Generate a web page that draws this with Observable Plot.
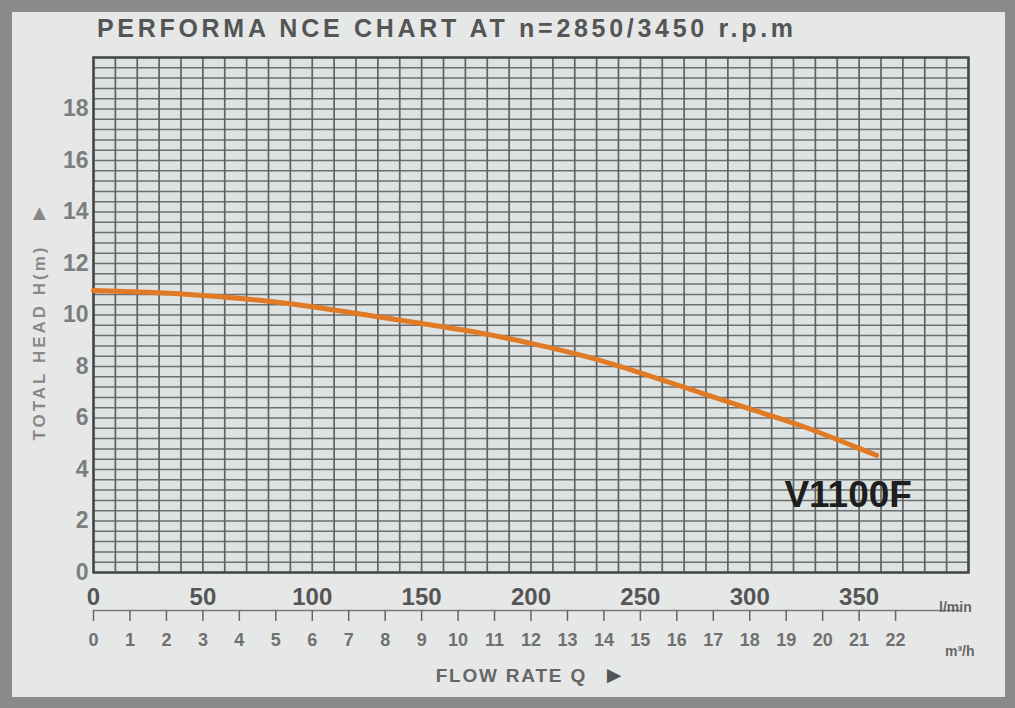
<!DOCTYPE html>
<html><head><meta charset="utf-8">
<script src="https://cdn.jsdelivr.net/npm/d3@7"></script>
<script src="https://cdn.jsdelivr.net/npm/@observablehq/plot@0.6"></script>
<style>
html,body{margin:0;padding:0;background:#8a8a8a;width:1015px;height:708px;overflow:hidden}
#panel{position:absolute;left:12px;top:12px;width:993px;height:685px;background:#e6e8e8;}
#title{position:absolute;left:85px;top:4px;font:bold 25px "Liberation Sans",Arial,sans-serif;line-height:25px;letter-spacing:3.7px;color:#555;white-space:nowrap;}
#chart{position:absolute;left:0;top:38px;}
</style></head>
<body>
<div id="panel">
  <div id="title">PERFORMA NCE CHART AT n=2850/3450 r.p.m</div>
  <div id="chart"></div>
</div>
<script>
// ---- data ----
const flowLmin = [0, 25, 50, 75, 100, 125, 150, 175, 200, 225, 250, 275, 300, 325, 350, 358];
const headM    = [10.95, 10.88, 10.76, 10.58, 10.32, 10.0, 9.67, 9.33, 8.9, 8.39, 7.75, 7.05, 6.35, 5.65, 4.82, 4.55];
const yTicks = [0, 2, 4, 6, 8, 10, 12, 14, 16, 18];
const xTicksLmin = [0, 50, 100, 150, 200, 250, 300, 350];
const xTicksM3h = [0,1,2,3,4,5,6,7,8,9,10,11,12,13,14,15,16,17,18,19,20,21,22];
const modelName = ["V1100F"];
const yTitle = ["TOTAL HEAD H(m)"];
const xTitle = ["FLOW RATE Q"];
const unitLmin = ["l/min"];
const unitM3h = ["m³/h"];

// ---- chart ----
const font = '"Liberation Sans", Arial, sans-serif';
const xGrid = d3.range(0, 401, 10);
const yGrid = d3.range(0, 51).map(i => +(i * 0.4).toFixed(1));
const curve = flowLmin.map((q, i) => ({q, h: headM[i]}));
const toL = d => d * 1000 / 60;

const plot = Plot.plot({
  width: 993, height: 647,
  marginLeft: 81, marginRight: 37, marginTop: 7, marginBottom: 125,
  x: {domain: [0, 400], axis: null},
  y: {domain: [0, 20], axis: null},
  style: {background: "transparent", fontFamily: font, overflow: "visible"},
  marks: [
    Plot.frame({fill: "#dde2e3", stroke: "none"}),
    Plot.ruleY(yGrid, {x1: 0, x2: 400, stroke: "#6e6e6e", strokeWidth: 1.5}),
    Plot.ruleX(xGrid, {y1: 0, y2: 20, stroke: "#626262", strokeWidth: 1.7}),
    Plot.frame({stroke: "#474747", strokeWidth: 2.5}),
    Plot.line(curve, {x: "q", y: "h", stroke: "#e07a25", strokeWidth: 5, curve: "natural"}),
    Plot.text(modelName, {x: 345, y: 3.0, text: d => d, fontSize: 37, fontWeight: "bold", fill: "#1e1e1e"}),
    Plot.text(yTicks, {x: 0, y: d => d, text: d => String(d), dx: -5, textAnchor: "end", fontSize: 23, fontWeight: "bold", fill: "#7d7d7d"}),
    Plot.text(xTicksLmin, {x: d => d, y: -0.97, text: d => String(d), fontSize: 24, fontWeight: "bold", fill: "#555"}),
    Plot.ruleY([-1.48], {x1: 0, x2: 397, stroke: "#7a7a7a", strokeWidth: 1.5}),
    Plot.ruleX(xTicksM3h, {x: toL, y1: -1.48, y2: -1.9, stroke: "#666", strokeWidth: 1.5}),
    Plot.text(xTicksM3h, {x: toL, y: -2.64, text: d => String(d), fontSize: 18, fontWeight: "bold", fill: "#707070"}),
    Plot.text(unitLmin, {x: 394, y: -1.36, text: d => d, fontSize: 14, fontWeight: "bold", fill: "#666"}),
    Plot.text(unitM3h, {x: 396, y: -3.07, text: d => d, fontSize: 14, fontWeight: "bold", fill: "#666"}),
    Plot.text(xTitle, {x: 191, y: -4.0, text: d => d, fontSize: 19, fontWeight: "bold", fill: "#666"}),
    Plot.text(["►"], {x: 238, y: -4.0, text: d => d, fontSize: 24, fill: "#555"}),
    Plot.text(yTitle, {frameAnchor: "left", textAnchor: "middle", y: 8.93, dx: -54, rotate: -90, text: d => d, fontSize: 17, fontWeight: "bold", fill: "#888"}),
    Plot.text(["▲"], {frameAnchor: "left", textAnchor: "middle", y: 13.95, dx: -54, text: d => d, fontSize: 22, fill: "#888"})
  ]
});
d3.select(plot).selectAll("text").each(function() {
  const t = this.textContent;
  if (t === yTitle[0]) this.setAttribute("letter-spacing", "3");
  if (t === xTitle[0]) this.setAttribute("letter-spacing", "1.8");
});
document.getElementById("chart").appendChild(plot);
</script>
</body></html>
